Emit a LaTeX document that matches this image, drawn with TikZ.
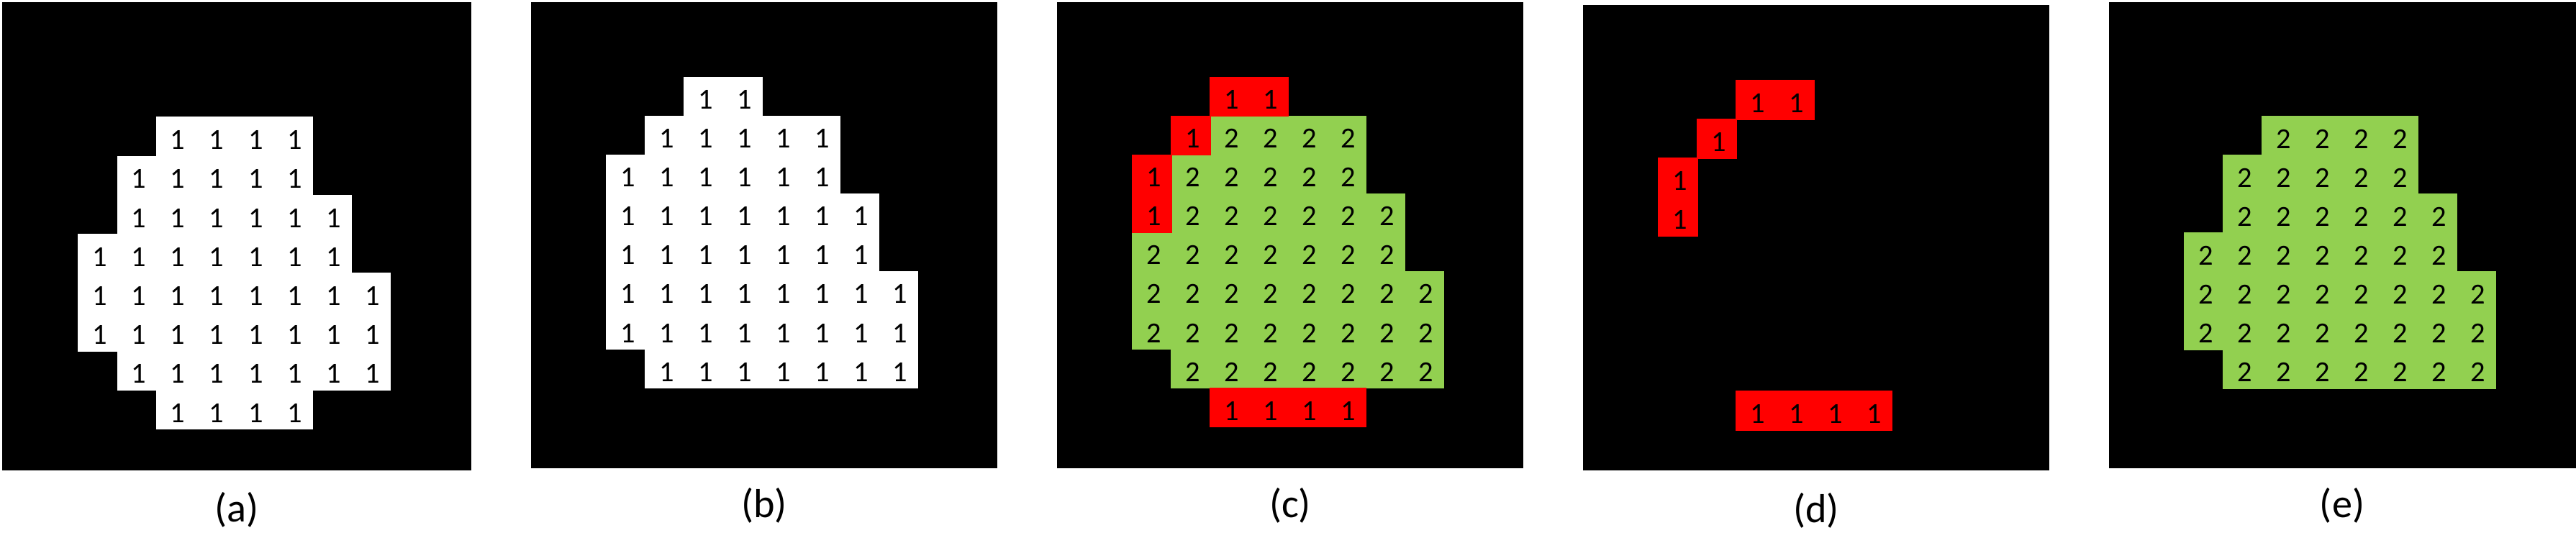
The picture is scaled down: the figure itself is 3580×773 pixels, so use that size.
\documentclass[tikz,border=0pt]{standalone}
\usepackage{fontspec}
\setmainfont{Carlito}
\definecolor{cellred}{RGB}{255,0,0}
\definecolor{cellgreen}{RGB}{146,208,80}
\begin{document}
\begin{tikzpicture}[x=0.01cm,y=-0.01cm,
  panel/.style={fill=black},
  run/.style={line width=0.3pt},
  digit/.style={anchor=base,inner sep=0pt,font=\fontsize{11.5}{12}\selectfont,text=black},
  caption/.style={anchor=center,inner sep=0pt,font=\fontsize{16}{19}\selectfont}]
\useasboundingbox (0,0) rectangle (3580,773);
\fill[white] (0,0) rectangle (3580,773);
% ---------- panel (a)
\fill[panel] (3,3) rectangle (655,654);
\foreach \r/\p/\q in {0/2/5,1/1/5,2/1/6,3/0/6,4/0/7,5/0/7,6/1/7,7/2/5}{
  \filldraw[white,run] ({109+\p*54.2},{163+\r*54.2}) rectangle ({109+(\q+1)*54.2},{163+(\r+1)*54.2});
  \foreach \c in {\p,...,\q}
    \node[digit] (a-\r-\c) at ({109+(\c+0.5)*54.2+2.5},{163+\r*54.2+44.7}) {1};
}
\node[caption] (la) at (329,709) {(a)};
% ---------- panel (b)
\fill[panel] (738,3.5) rectangle (1386,651);
\foreach \r/\p/\q in {0/2/3,1/1/5,2/0/5,3/0/6,4/0/6,5/0/7,6/0/7,7/1/7}{
  \filldraw[white,run] ({843+\p*54},{107.5+\r*54}) rectangle ({843+(\q+1)*54},{107.5+(\r+1)*54});
  \foreach \c in {\p,...,\q}
    \node[digit] (b-\r-\c) at ({843+(\c+0.5)*54+2.5},{107.5+\r*54+44.5}) {1};
}
\node[caption] (lb) at (1062,703) {(b)};
% ---------- panel (c)
\fill[panel] (1469,3.5) rectangle (2117,651);
\foreach \r/\p/\q in {1/2/5,2/1/5,3/1/6,4/0/6,5/0/7,6/0/7,7/1/7}{
  \filldraw[cellgreen,run] ({1574+\p*54},{107.5+\r*54}) rectangle ({1574+(\q+1)*54},{107.5+(\r+1)*54});
  \foreach \c in {\p,...,\q}
    \node[digit] (cg-\r-\c) at ({1574+(\c+0.5)*54+2.5},{107.5+\r*54+44.5}) {2};
}
\foreach \r/\p/\q in {0/2/3,1/1/1,2/0/0,3/0/0,8/2/5}{
  \filldraw[cellred,run] ({1574+\p*54},{107.5+\r*54}) rectangle ({1574+(\q+1)*54},{107.5+(\r+1)*54});
  \foreach \c in {\p,...,\q}
    \node[digit] (cr-\r-\c) at ({1574+(\c+0.5)*54+2.5},{107.5+\r*54+44.5}) {1};
}
\node[caption] (lc) at (1793,703) {(c)};
% ---------- panel (d)
\fill[panel] (2200,7) rectangle (2848,654);
\foreach \r/\p/\q in {0/2/3,1/1/1,2/0/0,3/0/0,8/2/5}{
  \filldraw[cellred,run] ({2305+\p*54},{112+\r*54}) rectangle ({2305+(\q+1)*54},{112+(\r+1)*54});
  \foreach \c in {\p,...,\q}
    \node[digit] (d-\r-\c) at ({2305+(\c+0.5)*54+2.5},{112+\r*54+44.5}) {1};
}
\node[caption] (ld) at (2524,710) {(d)};
% ---------- panel (e)
\fill[panel] (2931,3.5) rectangle (3580,651);
\foreach \r/\p/\q in {0/2/5,1/1/5,2/1/6,3/0/6,4/0/7,5/0/7,6/1/7}{
  \filldraw[cellgreen,run] ({3036+\p*54},{162+\r*54}) rectangle ({3036+(\q+1)*54},{162+(\r+1)*54});
  \foreach \c in {\p,...,\q}
    \node[digit] (e-\r-\c) at ({3036+(\c+0.5)*54+2.5},{162+\r*54+44.5}) {2};
}
\node[caption] (le) at (3255,703) {(e)};
\end{tikzpicture}
\end{document}
